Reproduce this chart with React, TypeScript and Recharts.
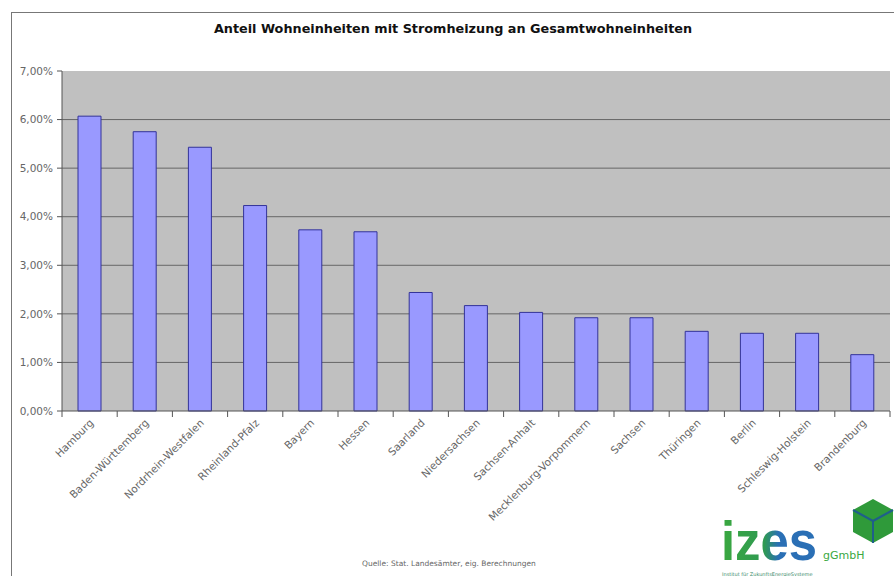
import React from "react";
import { BarChart, Bar, XAxis, YAxis, CartesianGrid, ReferenceLine } from "recharts";

const categories = [
  "Hamburg",
  "Baden-Württemberg",
  "Nordrhein-Westfalen",
  "Rheinland-Pfalz",
  "Bayern",
  "Hessen",
  "Saarland",
  "Niedersachsen",
  "Sachsen-Anhalt",
  "Mecklenburg-Vorpommern",
  "Sachsen",
  "Thüringen",
  "Berlin",
  "Schleswig-Holstein",
  "Brandenburg",
];
const shares = [6.07, 5.75, 5.43, 4.23, 3.73, 3.69, 2.44, 2.17, 2.03, 1.92, 1.92, 1.64, 1.6, 1.6, 1.16];
const yTicks = [0, 1, 2, 3, 4, 5, 6, 7];
const gridTicks = [1, 2, 3, 4, 5, 6];
const yMax = 7;
const title = "Anteil Wohneinheiten mit Stromheizung an Gesamtwohneinheiten";
const source = "Quelle: Stat. Landesämter, eig. Berechnungen";

const data = categories.map((c, i) => ({ name: c, value: shares[i] }));

const W = 894;
const H = 576;
const LEFT = 62;
const RIGHT = 4;
const band = (W - LEFT - RIGHT) / categories.length;
const FONT = "'DejaVu Sans', Verdana, sans-serif";

const fmt = (v: number) => v.toFixed(2).replace(".", ",") + "%";

const XTick = (props: any) => {
  const { x, y, payload, index } = props;
  const axisY = y - 8;
  return (
    <g>
      {index === 0 && (
        <line x1={x - band / 2} x2={x - band / 2} y1={axisY} y2={axisY + 6} stroke="#555" />
      )}
      <line x1={x + band / 2} x2={x + band / 2} y1={axisY} y2={axisY + 6} stroke="#555" />
      <text
        transform={`translate(${x + 2},${y + 2}) rotate(-45)`}
        textAnchor="end"
        dy="0.35em"
        fontSize={10.5}
        fontFamily={FONT}
        fill="#666"
      >
        {payload.value}
      </text>
    </g>
  );
};

export default function App() {
  return (
    <div style={{ position: "absolute", left: 0, top: 0, width: W, height: H, background: "#fff" }}>
      <BarChart
        width={W}
        height={H}
        data={data}
        margin={{ top: 71, right: RIGHT, bottom: 0, left: 0 }}
        barSize={23}
      >
        <CartesianGrid fill="#c0c0c0" stroke="none" horizontal={false} vertical={false} />
        {gridTicks.map((t) => (
          <ReferenceLine key={t} y={t} stroke="#666" zIndex={-1} />
        ))}
        <XAxis
          dataKey="name"
          height={165}
          interval={0}
          tickLine={false}
          axisLine={{ stroke: "#555" }}
          tick={<XTick />}
        />
        <YAxis
          width={LEFT}
          domain={[0, yMax]}
          ticks={yTicks}
          tickFormatter={fmt}
          tickSize={5}
          tickMargin={4}
          axisLine={{ stroke: "#555" }}
          tickLine={{ stroke: "#555" }}
          tick={{ fontSize: 10.5, fontFamily: FONT, fill: "#666" }}
        />
        <YAxis
          yAxisId="right"
          orientation="right"
          width={0}
          domain={[0, yMax]}
          tick={false}
          tickLine={false}
          axisLine={{ stroke: "#999" }}
        />
        <Bar dataKey="value" fill="#9999ff" stroke="#333399" strokeWidth={1} isAnimationActive={false} />
      </BarChart>
      <svg
        width={W}
        height={H}
        style={{ position: "absolute", left: 0, top: 0, pointerEvents: "none" }}
      >
        <defs>
          <linearGradient id="izesGrad" x1="0" x2="1" y1="0" y2="0">
            <stop offset="0" stopColor="#3aa83f" />
            <stop offset="0.45" stopColor="#2f9a52" />
            <stop offset="0.6" stopColor="#2a6fb5" />
            <stop offset="1" stopColor="#2a6fb5" />
          </linearGradient>
        </defs>
        <rect x={11.5} y={12.5} width={900} height={600} fill="none" stroke="#777" />
        <text
          x={453}
          y={33}
          textAnchor="middle"
          fontSize={12.8}
          fontWeight="bold"
          fontFamily={FONT}
          fill="#111"
        >
          {title}
        </text>
        <text x={362} y={566} fontSize={7.5} fontFamily={FONT} fill="#666">
          {source}
        </text>
        <text
          x={721}
          y={559.5}
          fontSize={56}
          fontWeight="bold"
          fontFamily="'Liberation Sans', Arial, sans-serif"
          fill="url(#izesGrad)"
          textLength={96}
          lengthAdjust="spacingAndGlyphs"
        >
          izes
        </text>
        <text x={823} y={559} fontSize={11} fontFamily={FONT} fill="#3aa83f">
          gGmbH
        </text>
        <text x={722} y={576} fontSize={5} fontFamily={FONT} fill="#3a8a6a">
          Institut für ZukunftsEnergieSysteme
        </text>
        <g>
          <polygon
            points="873,499 893,510 893,532 873,543 853,532 853,510"
            fill="#2f9a3a"
          />
          <line x1={873} y1={521} x2={873} y2={543} stroke="#1f5f8a" strokeWidth={2} />
          <line x1={873} y1={521} x2={853} y2={510} stroke="#1f5f8a" strokeWidth={2} />
          <line x1={873} y1={521} x2={893} y2={510} stroke="#1f5f8a" strokeWidth={2} />
        </g>
      </svg>
    </div>
  );
}
